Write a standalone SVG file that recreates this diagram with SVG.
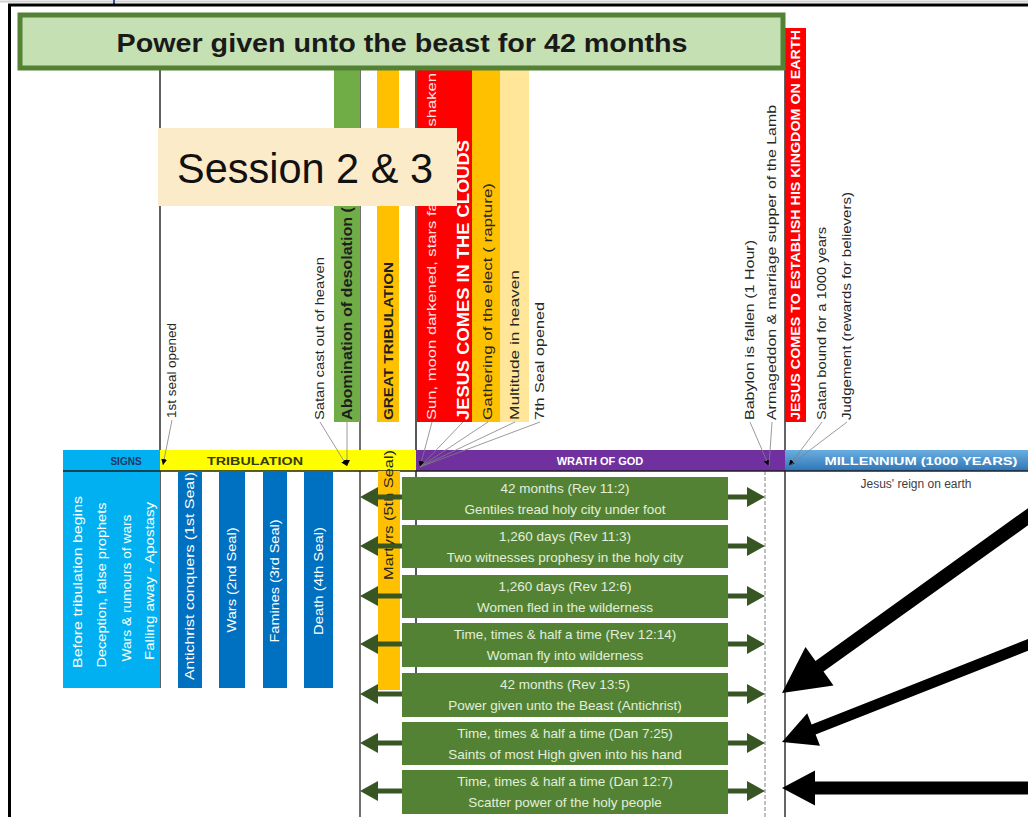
<svg xmlns="http://www.w3.org/2000/svg" width="1028" height="817" viewBox="0 0 1028 817">
<style>
text{font-family:"Liberation Sans",Arial,sans-serif}
.v{dominant-baseline:central}
.sm{font-size:12px;fill:#262626}
.wb{font-weight:bold;fill:#ffffff}
.db{font-weight:bold;fill:#1e1e1e}
.bx{fill:#548235}
.bt{font-size:13.5px;fill:#e2efda;text-anchor:middle}
.lead{stroke:#808080;stroke-width:0.8;fill:none}
.garr{stroke:#375623;stroke-width:5;fill:none}
.sig{font-size:12.5px;fill:#ffffff;text-anchor:middle}
</style>
<defs>
<marker id="ga" viewBox="0 0 18 20" refX="0" refY="10" markerWidth="18" markerHeight="20" markerUnits="userSpaceOnUse" orient="auto"><path d="M0,0 L18,10 L0,20 z" fill="#375623"/></marker>
<marker id="sa" viewBox="0 0 6 6" refX="6" refY="3" markerWidth="6" markerHeight="6" markerUnits="userSpaceOnUse" orient="auto"><path d="M0,0 L6,3 L0,6 z" fill="#000"/></marker>
<linearGradient id="mg" x1="0" y1="0" x2="0" y2="1"><stop offset="0" stop-color="#6aaee0"/><stop offset="1" stop-color="#2e75b6"/></linearGradient>
</defs>
<rect width="1028" height="817" fill="#ffffff"/>
<!-- frame -->
<g id="frame">
<line x1="0" y1="1.5" x2="1028" y2="1.5" stroke="#d0d0d0" stroke-width="2"/>
<line x1="114" y1="0" x2="114" y2="5" stroke="#2f5597" stroke-width="2"/>
<line x1="8" y1="5" x2="1028" y2="5" stroke="#000" stroke-width="3"/>
<line x1="9.5" y1="5" x2="9.5" y2="817" stroke="#000" stroke-width="3"/>
</g>
<!-- vertical guide lines -->
<g id="guides">
<line x1="160" y1="70" x2="160" y2="688" stroke="#606060" stroke-width="2"/>
<line x1="360" y1="70" x2="360" y2="817" stroke="#404040" stroke-width="1.5"/>
<line x1="416" y1="70" x2="416" y2="675" stroke="#202020" stroke-width="1.5"/>
<line x1="785" y1="28" x2="785" y2="817" stroke="#303030" stroke-width="1.5"/>
<line x1="765" y1="471" x2="765" y2="817" stroke="#808080" stroke-width="1" stroke-dasharray="4 2"/>
</g>
<!-- top vertical bars -->
<g id="bar-abomination">
<rect x="334" y="70" width="26" height="352" fill="#70ad47"/>
<text class="v db" font-size="14" textLength="213" lengthAdjust="spacingAndGlyphs" transform="translate(347,420) rotate(-90)">Abomination of desolation (</text>
</g>
<g id="bar-great-tribulation">
<rect x="377" y="70" width="22" height="352" fill="#ffc000"/>
<text class="v db" font-size="12" textLength="158" lengthAdjust="spacingAndGlyphs" transform="translate(389,420) rotate(-90)">GREAT TRIBULATION</text>
</g>
<g id="bar-jesus-clouds">
<rect x="417" y="70" width="55" height="352" fill="#ff0000"/>
<text class="v" font-size="12.5" fill="#fde3e3" textLength="347" lengthAdjust="spacingAndGlyphs" transform="translate(432,420) rotate(-90)">Sun, moon darkened, stars fall, heaven shaken</text>
<text class="v wb" font-size="17" textLength="280" lengthAdjust="spacingAndGlyphs" transform="translate(463,420) rotate(-90)">JESUS COMES IN THE CLOUDS</text>
</g>
<g id="bar-gathering">
<rect x="472" y="70" width="28" height="352" fill="#ffc000"/>
<text class="v sm" font-size="13" textLength="237" lengthAdjust="spacingAndGlyphs" transform="translate(488,420) rotate(-90)">Gathering of the elect ( rapture)</text>
</g>
<g id="bar-multitude">
<rect x="500" y="70" width="29" height="352" fill="#ffe699"/>
<text class="v sm" font-size="13" textLength="150" lengthAdjust="spacingAndGlyphs" transform="translate(515,420) rotate(-90)">Multitude in heaven</text>
</g>
<g id="label-7th-seal">
<text class="v sm" font-size="13" textLength="118" lengthAdjust="spacingAndGlyphs" transform="translate(540,420) rotate(-90)">7th Seal opened</text>
</g>
<g id="label-1st-seal">
<text class="v sm" font-size="11" textLength="95" lengthAdjust="spacingAndGlyphs" transform="translate(172,418) rotate(-90)">1st seal opened</text>
</g>
<g id="label-satan-cast">
<text class="v sm" textLength="163" lengthAdjust="spacingAndGlyphs" transform="translate(320,420) rotate(-90)">Satan cast out of heaven</text>
</g>
<g id="label-babylon">
<text class="v sm" textLength="180" lengthAdjust="spacingAndGlyphs" transform="translate(750,420) rotate(-90)">Babylon is fallen (1 Hour)</text>
</g>
<g id="label-armageddon">
<text class="v sm" textLength="315" lengthAdjust="spacingAndGlyphs" transform="translate(772,420) rotate(-90)">Armageddon &amp; marriage supper of the Lamb</text>
</g>
<g id="bar-kingdom">
<rect x="785" y="28" width="21" height="394" fill="#ff0000"/>
<text class="v wb" font-size="12.5" textLength="390" lengthAdjust="spacingAndGlyphs" transform="translate(795.5,420) rotate(-90)">JESUS COMES TO ESTABLISH HIS KINGDOM ON EARTH</text>
</g>
<g id="label-satan-bound">
<text class="v sm" textLength="193" lengthAdjust="spacingAndGlyphs" transform="translate(822,420) rotate(-90)">Satan bound for a 1000 years</text>
</g>
<g id="label-judgement">
<text class="v sm" textLength="228" lengthAdjust="spacingAndGlyphs" transform="translate(847,420) rotate(-90)">Judgement (rewards for believers)</text>
</g>
<!-- title -->
<g id="title">
<rect x="20" y="15" width="763" height="53" fill="#c5e0b3" stroke="#548235" stroke-width="5"/>
<text x="402" y="52" text-anchor="middle" font-size="25" font-weight="bold" fill="#1a1a1a" textLength="571" lengthAdjust="spacingAndGlyphs">Power given unto the beast for 42 months</text>
</g>
<!-- session box -->
<g id="session">
<rect x="158" y="128" width="299" height="78" fill="#fcebc9"/>
<text x="177" y="183" font-size="42" fill="#111111" textLength="256" lengthAdjust="spacingAndGlyphs">Session 2 &amp; 3</text>
</g>
<!-- timeline headers -->
<g id="hdr-signs">
<rect x="63" y="450" width="97" height="238" fill="#00b0f0"/>
<text x="126" y="465" text-anchor="middle" font-size="10" font-weight="bold" fill="#1f3864">SIGNS</text>
<text class="v sig" textLength="172" lengthAdjust="spacingAndGlyphs" transform="translate(78,582) rotate(-90)">Before tribulation begins</text>
<text class="v sig" textLength="165" lengthAdjust="spacingAndGlyphs" transform="translate(102,585) rotate(-90)">Deception, false prophets</text>
<text class="v sig" textLength="147" lengthAdjust="spacingAndGlyphs" transform="translate(127,588) rotate(-90)">Wars &amp; rumours of wars</text>
<text class="v sig" textLength="158" lengthAdjust="spacingAndGlyphs" transform="translate(150,581) rotate(-90)">Falling away - Apostasy</text>
</g>
<g id="hdr-tribulation">
<rect x="160" y="450" width="256" height="21" fill="#ffff00"/>
<text x="255" y="465" text-anchor="middle" font-size="11" font-weight="bold" fill="#3a3a10" textLength="96" lengthAdjust="spacingAndGlyphs">TRIBULATION</text>
</g>
<g id="hdr-wrath">
<rect x="416" y="450" width="369" height="21" fill="#7030a0"/>
<text x="600" y="465" text-anchor="middle" font-size="11" font-weight="bold" fill="#ffffff">WRATH OF GOD</text>
</g>
<g id="hdr-millennium">
<rect x="785" y="450" width="243" height="21" fill="url(#mg)"/>
<text x="921" y="465" text-anchor="middle" font-size="11.5" font-weight="bold" fill="#ffffff" textLength="193" lengthAdjust="spacingAndGlyphs">MILLENNIUM (1000 YEARS)</text>
<text x="916" y="488" text-anchor="middle" font-size="12" fill="#404040">Jesus' reign on earth</text>
</g>
<line x1="63" y1="471" x2="1028" y2="471" stroke="#1f1f1f" stroke-width="1.5"/>
<!-- seal bars -->
<g id="seal-1"><rect x="178" y="471" width="24" height="217" fill="#0070c0"/>
<text class="v sig" textLength="208" lengthAdjust="spacingAndGlyphs" transform="translate(190,576) rotate(-90)">Antichrist conquers (1st Seal)</text></g>
<g id="seal-2"><rect x="219" y="471" width="26" height="217" fill="#0070c0"/>
<text class="v sig" textLength="105" lengthAdjust="spacingAndGlyphs" transform="translate(232,580) rotate(-90)">Wars (2nd Seal)</text></g>
<g id="seal-3"><rect x="263" y="471" width="24" height="217" fill="#0070c0"/>
<text class="v sig" textLength="123" lengthAdjust="spacingAndGlyphs" transform="translate(275,581) rotate(-90)">Famines (3rd Seal)</text></g>
<g id="seal-4"><rect x="304" y="471" width="29" height="217" fill="#0070c0"/>
<text class="v sig" textLength="108" lengthAdjust="spacingAndGlyphs" transform="translate(318.5,581) rotate(-90)">Death (4th Seal)</text></g>
<g id="martyrs"><rect x="378" y="471" width="22" height="219" fill="#ffc000"/>
<text class="v sm" textLength="130" lengthAdjust="spacingAndGlyphs" transform="translate(389,580) rotate(-90)">Martyrs (5th Seal)</text></g>
<!-- green period boxes -->
<g id="box-1"><rect class="bx" x="402" y="477" width="326" height="43"/>
<text class="bt" x="565" y="493">42 months (Rev 11:2)</text><text class="bt" x="565" y="514">Gentiles tread holy city under foot</text></g>
<g id="box-2"><rect class="bx" x="402" y="525" width="326" height="43"/>
<text class="bt" x="565" y="541">1,260 days (Rev 11:3)</text><text class="bt" x="565" y="562">Two witnesses prophesy in the holy city</text></g>
<g id="box-3"><rect class="bx" x="402" y="575" width="326" height="43"/>
<text class="bt" x="565" y="591">1,260 days (Rev 12:6)</text><text class="bt" x="565" y="612">Women fled in the wilderness</text></g>
<g id="box-4"><rect class="bx" x="402" y="623" width="326" height="44"/>
<text class="bt" x="565" y="639">Time, times &amp; half a time (Rev 12:14)</text><text class="bt" x="565" y="660">Woman fly into wilderness</text></g>
<g id="box-5"><rect class="bx" x="402" y="673" width="326" height="44"/>
<text class="bt" x="565" y="689">42 months (Rev 13:5)</text><text class="bt" x="565" y="710">Power given unto the Beast (Antichrist)</text></g>
<g id="box-6"><rect class="bx" x="402" y="722" width="326" height="43"/>
<text class="bt" x="565" y="738">Time, times &amp; half a time (Dan 7:25)</text><text class="bt" x="565" y="759">Saints of most High given into his hand</text></g>
<g id="box-7"><rect class="bx" x="402" y="770" width="326" height="44"/>
<text class="bt" x="565" y="786">Time, times &amp; half a time (Dan 12:7)</text><text class="bt" x="565" y="807">Scatter power of the holy people</text></g>
<!-- connectors -->
<g id="connectors">
<path class="lead" marker-end="url(#sa)" d="M172,420 L163,465"/>
<path class="lead" marker-end="url(#sa)" d="M320,422 L347,466"/>
<path class="lead" marker-end="url(#sa)" d="M347,422 L347,466"/>
<path class="lead" marker-end="url(#sa)" d="M432,422 L420,467"/>
<path class="lead" d="M463,422 L420,467"/>
<path class="lead" d="M488,422 L420,467"/>
<path class="lead" d="M515,422 L420,467"/>
<path class="lead" d="M540,422 L420,467"/>
<path class="lead" marker-end="url(#sa)" d="M750,422 L769,466"/>
<path class="lead" d="M772,422 L769,466"/>
<path class="lead" marker-end="url(#sa)" d="M822,422 L789,466"/>
<path class="lead" d="M847,422 L789,466"/>
<g id="green-arrows">
<path class="garr" marker-end="url(#ga)" d="M402,497 L378,497"/><path class="garr" marker-end="url(#ga)" d="M728,497 L747,497"/>
<path class="garr" marker-end="url(#ga)" d="M402,546 L378,546"/><path class="garr" marker-end="url(#ga)" d="M728,546 L747,546"/>
<path class="garr" marker-end="url(#ga)" d="M402,596 L378,596"/><path class="garr" marker-end="url(#ga)" d="M728,596 L747,596"/>
<path class="garr" marker-end="url(#ga)" d="M402,644 L378,644"/><path class="garr" marker-end="url(#ga)" d="M728,644 L747,644"/>
<path class="garr" marker-end="url(#ga)" d="M402,694 L378,694"/><path class="garr" marker-end="url(#ga)" d="M728,694 L747,694"/>
<path class="garr" marker-end="url(#ga)" d="M402,743 L378,743"/><path class="garr" marker-end="url(#ga)" d="M728,743 L747,743"/>
<path class="garr" marker-end="url(#ga)" d="M402,791 L378,791"/><path class="garr" marker-end="url(#ga)" d="M728,791 L747,791"/>
</g>
<g id="pointer-arrows" fill="#000000">
<polygon points="782,693 833.5,685.5 823.5,671.5 1039,517.5 1031,506 815.5,661 805.5,647"/>
<polygon points="782,742 820,745.8 815.6,734.6 1037,647.3 1033,637.1 811.6,724.4 807.2,713.2"/>
<polygon points="782,788 815,770.5 815,781.5 1030,781.5 1030,794.5 815,794.5 815,805.5"/>
</g>
</g>
</svg>
